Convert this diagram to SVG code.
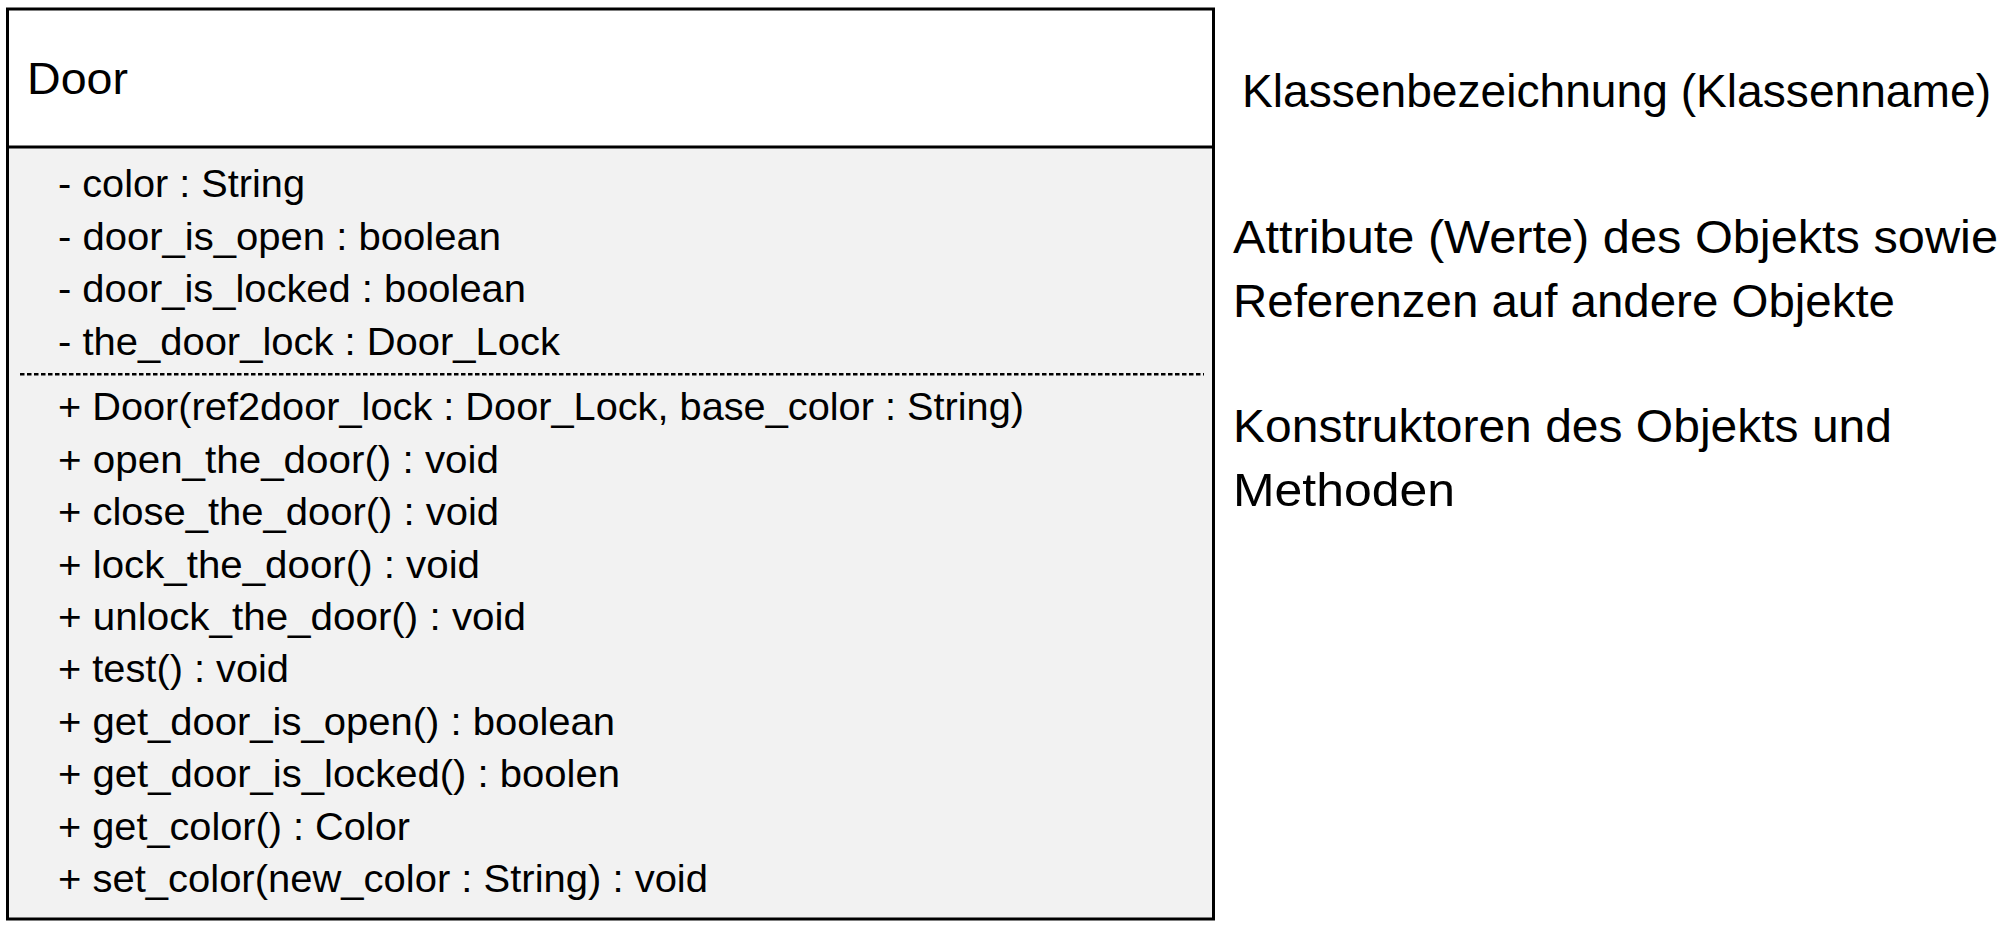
<svg xmlns="http://www.w3.org/2000/svg" width="2008" height="931" viewBox="0 0 2008 931">
  <style>
    .t { font-family: "Liberation Sans", Arial, sans-serif; fill: #000; }
    .m { font-size: 38.7px; }
    .h { font-size: 45px; }
    .l { font-size: 46.8px; }
    .border { fill: none; stroke: #000; stroke-width: 3; }
  </style>
  <rect x="0" y="0" width="2008" height="931" fill="#ffffff"/>
  <g id="door-class">
    <rect x="7.5" y="9" width="1206" height="138" fill="#ffffff"/>
    <rect x="7.5" y="147" width="1206" height="772" fill="#f2f2f2"/>
    <rect class="border" x="7.5" y="9" width="1206" height="910"/>
    <line x1="7.5" y1="147" x2="1213.5" y2="147" stroke="#000" stroke-width="3"/>
    <line x1="20" y1="374.3" x2="1204" y2="374.3" stroke="#000" stroke-width="2.5" stroke-dasharray="4.5 2.5"/>
    <text class="t h" x="27" y="93.5" textLength="101" lengthAdjust="spacingAndGlyphs">Door</text>
    <g id="attributes">
      <text class="t m" x="58" y="197" textLength="247" lengthAdjust="spacingAndGlyphs">- color : String</text>
      <text class="t m" x="58" y="249.5" textLength="443" lengthAdjust="spacingAndGlyphs">- door_is_open : boolean</text>
      <text class="t m" x="58" y="302" textLength="468" lengthAdjust="spacingAndGlyphs">- door_is_locked : boolean</text>
      <text class="t m" x="58" y="354.5" textLength="502" lengthAdjust="spacingAndGlyphs">- the_door_lock : Door_Lock</text>
    </g>
    <g id="methods">
      <text class="t m" x="58" y="420.4" textLength="966" lengthAdjust="spacingAndGlyphs">+ Door(ref2door_lock : Door_Lock, base_color : String)</text>
      <text class="t m" x="58" y="472.8" textLength="441" lengthAdjust="spacingAndGlyphs">+ open_the_door() : void</text>
      <text class="t m" x="58" y="525.2" textLength="441" lengthAdjust="spacingAndGlyphs">+ close_the_door() : void</text>
      <text class="t m" x="58" y="577.6" textLength="422" lengthAdjust="spacingAndGlyphs">+ lock_the_door() : void</text>
      <text class="t m" x="58" y="630" textLength="468" lengthAdjust="spacingAndGlyphs">+ unlock_the_door() : void</text>
      <text class="t m" x="58" y="682.4" textLength="231" lengthAdjust="spacingAndGlyphs">+ test() : void</text>
      <text class="t m" x="58" y="734.8" textLength="557" lengthAdjust="spacingAndGlyphs">+ get_door_is_open() : boolean</text>
      <text class="t m" x="58" y="787.2" textLength="562" lengthAdjust="spacingAndGlyphs">+ get_door_is_locked() : boolen</text>
      <text class="t m" x="58" y="839.6" textLength="352" lengthAdjust="spacingAndGlyphs">+ get_color() : Color</text>
      <text class="t m" x="58" y="892" textLength="650" lengthAdjust="spacingAndGlyphs">+ set_color(new_color : String) : void</text>
    </g>
  </g>
  <g id="annotations">
    <text class="t l" x="1242" y="107" textLength="749" lengthAdjust="spacingAndGlyphs">Klassenbezeichnung (Klassenname)</text>
    <text class="t l" x="1233" y="253" textLength="765" lengthAdjust="spacingAndGlyphs">Attribute (Werte) des Objekts sowie</text>
    <text class="t l" x="1233" y="316.5" textLength="662" lengthAdjust="spacingAndGlyphs">Referenzen auf andere Objekte</text>
    <text class="t l" x="1233" y="442" textLength="659" lengthAdjust="spacingAndGlyphs">Konstruktoren des Objekts und</text>
    <text class="t l" x="1233" y="505.5" textLength="222" lengthAdjust="spacingAndGlyphs">Methoden</text>
  </g>
  <g id="connectors"></g>
</svg>
